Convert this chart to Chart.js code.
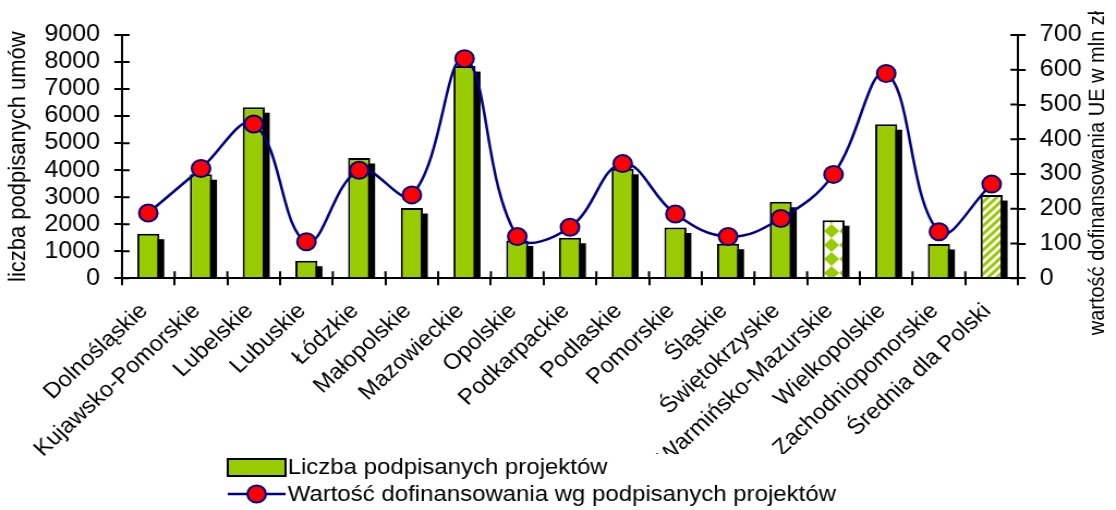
<!DOCTYPE html>
<html>
<head>
<meta charset="utf-8">
<script src="https://cdn.jsdelivr.net/npm/chart.js@4.4.1/dist/chart.umd.min.js"></script>
<style>
  html, body { margin: 0; padding: 0; background: #fff; overflow: hidden; }
  #chart { display: block; transform: scaleX(1.0898); transform-origin: 0 0; }
</style>
</head>
<body>
<canvas id="chart" width="1024" height="510"></canvas>
<script>
const regions = ['Dolnośląskie', 'Kujawsko-Pomorskie', 'Lubelskie', 'Lubuskie', 'Łódzkie', 'Małopolskie',
  'Mazowieckie', 'Opolskie', 'Podkarpackie', 'Podlaskie', 'Pomorskie', 'Śląskie', 'Świętokrzyskie',
  'Warmińsko-Mazurskie', 'Wielkopolskie', 'Zachodniopomorskie', 'Średnia dla Polski'];
const projectCounts = [1650, 3850, 6330, 650, 4450, 2600, 7850, 1400, 1500, 4050, 1880, 1280, 2830, 2150, 5700, 1270, 3080];
const fundingValues = [188, 316, 444, 105, 311, 240, 632, 120, 147, 330, 185, 120, 172, 299, 589, 134, 271];
const countTicks = [0, 1000, 2000, 3000, 4000, 5000, 6000, 7000, 8000, 9000];
const fundingTicks = [0, 100, 200, 300, 400, 500, 600, 700];

const GREEN = '#99CC00';
const NAVY = '#000080';
const FONT = "'Liberation Sans', Arial, sans-serif";

// fill patterns for the two special bars
function diamondPattern() {
  const c = document.createElement('canvas');
  c.width = 14; c.height = 14;
  const g = c.getContext('2d');
  g.fillStyle = '#fff';
  g.fillRect(0, 0, 14, 14);
  g.fillStyle = GREEN;
  g.beginPath();
  g.moveTo(7, 0); g.lineTo(14, 7); g.lineTo(7, 14); g.lineTo(0, 7);
  g.closePath();
  g.fill();
  return g.createPattern(c, 'repeat');
}

function stripePattern() {
  const c = document.createElement('canvas');
  c.width = 8; c.height = 8;
  const g = c.getContext('2d');
  g.fillStyle = '#fff';
  g.fillRect(0, 0, 8, 8);
  g.strokeStyle = GREEN;
  g.lineWidth = 3;
  g.beginPath();
  g.moveTo(-2, 10); g.lineTo(10, -2);
  g.moveTo(-6, 6); g.lineTo(6, -6);
  g.moveTo(2, 14); g.lineTo(14, 2);
  g.stroke();
  return g.createPattern(c, 'repeat');
}

const barColors = regions.map(r => {
  if (r === 'Warmińsko-Mazurskie') return diamondPattern();
  if (r === 'Średnia dla Polski') return stripePattern();
  return GREEN;
});

const barShadow = {
  id: 'barShadow',
  beforeDatasetsDraw(chart) {
    const ctx = chart.ctx, area = chart.chartArea;
    const meta = chart.getDatasetMeta(1);
    ctx.save();
    ctx.beginPath();
    ctx.rect(area.left, 0, area.right - area.left, area.bottom);
    ctx.clip();
    ctx.fillStyle = '#000';
    meta.data.forEach(bar => {
      const p = bar.getProps(['x', 'y', 'base', 'width'], true);
      ctx.fillRect(p.x - p.width / 2 + 4.5, p.y + 5.5, p.width, p.base - p.y);
    });
    ctx.restore();

    // inner half of the cross tick marks
    const {x, y, y1} = chart.scales;
    ctx.save();
    ctx.strokeStyle = '#000';
    ctx.lineWidth = 2;
    ctx.beginPath();
    y.ticks.forEach((t, i) => {
      const py = y.getPixelForTick(i);
      ctx.moveTo(y.right, py); ctx.lineTo(y.right + 7, py);
    });
    y1.ticks.forEach((t, i) => {
      const py = y1.getPixelForTick(i);
      ctx.moveTo(y1.left, py); ctx.lineTo(y1.left - 7, py);
    });
    for (let i = 0; i <= regions.length; i++) {
      const px = x.getPixelForValue(i - 0.5);
      ctx.moveTo(px, x.top); ctx.lineTo(px, x.top - 7);
    }
    ctx.stroke();
    ctx.restore();
  }
};

const extras = {
  id: 'extras',
  afterDraw(chart) {
    const ctx = chart.ctx;
    ctx.save();
    // right axis title, reading bottom to top
    ctx.translate(1007, 173);
    ctx.rotate(-Math.PI / 2);
    ctx.fillStyle = '#000';
    ctx.font = '20px ' + FONT;
    ctx.textAlign = 'center';
    ctx.textBaseline = 'middle';
    ctx.fillText('wartość dofinansowania UE w mln zł', 0, 0);
    ctx.restore();

    // legend box (white, covers the label tails behind it)
    ctx.save();
    ctx.fillStyle = '#fff';
    ctx.fillRect(207, 454, 559, 56);
    ctx.font = '22px ' + FONT;
    ctx.textBaseline = 'middle';
    ctx.fillStyle = GREEN;
    ctx.fillRect(209, 459, 53, 17);
    ctx.strokeStyle = '#000';
    ctx.lineWidth = 2;
    ctx.strokeRect(209, 459, 53, 17);
    ctx.fillStyle = '#000';
    ctx.fillText('Liczba podpisanych projektów', 264, 468);

    ctx.strokeStyle = NAVY;
    ctx.lineWidth = 2.5;
    ctx.beginPath();
    ctx.moveTo(209, 494); ctx.lineTo(262, 494);
    ctx.stroke();
    ctx.beginPath();
    ctx.arc(235.5, 494, 8.5, 0, Math.PI * 2);
    ctx.fillStyle = '#FF0000';
    ctx.fill();
    ctx.lineWidth = 2;
    ctx.stroke();
    ctx.fillStyle = '#000';
    ctx.fillText('Wartość dofinansowania wg podpisanych projektów', 264, 495);
    ctx.restore();
  }
};

const ctx = document.getElementById('chart').getContext('2d');
new Chart(ctx, {
  type: 'bar',
  data: {
    labels: regions,
    datasets: [
      {
        type: 'line',
        label: 'Wartość dofinansowania wg podpisanych projektów',
        data: fundingValues,
        yAxisID: 'y1',
        order: 0,
        borderColor: NAVY,
        borderWidth: 2.5,
        tension: 0.4,
        pointRadius: 8.5,
        pointBorderWidth: 2,
        pointBackgroundColor: '#FF0000',
        pointBorderColor: NAVY,
        clip: false
      },
      {
        label: 'Liczba podpisanych projektów',
        data: projectCounts,
        yAxisID: 'y',
        order: 1,
        backgroundColor: barColors,
        borderColor: '#000',
        borderWidth: 2,
        barPercentage: 0.42,
        categoryPercentage: 1
      }
    ]
  },
  options: {
    responsive: false,
    devicePixelRatio: 1,
    animation: false,
    events: [],
    layout: { padding: { top: 35, right: 0, bottom: 0, left: 0 } },
    plugins: {
      legend: { display: false },
      tooltip: { enabled: false }
    },
    scales: {
      x: {
        afterFit: s => { s.height = 231.7; },
        grid: { drawOnChartArea: false, tickLength: 7, color: '#000', lineWidth: 2, offset: true },
        border: { color: '#000', width: 2 },
        ticks: {
          autoSkip: false,
          maxRotation: 45,
          minRotation: 45,
          padding: 13,
          labelOffset: -4,
          color: '#000',
          font: { family: FONT, size: 22 }
        }
      },
      y: {
        position: 'left',
        min: countTicks[0],
        max: countTicks[countTicks.length - 1],
        afterFit: s => { s.width = 111.9; },
        afterBuildTicks: s => { s.ticks = countTicks.map(v => ({ value: v })); },
        grid: { drawOnChartArea: false, tickLength: 7, color: '#000', lineWidth: 2 },
        border: { color: '#000', width: 2 },
        ticks: {
          autoSkip: false,
          padding: 13,
          color: '#000',
          font: { family: FONT, size: 23 },
          callback: v => String(v)
        },
        title: {
          display: true,
          text: 'liczba podpisanych umów',
          color: '#000',
          font: { family: FONT, size: 22 },
          padding: { top: 4, bottom: 0 }
        }
      },
      y1: {
        position: 'right',
        min: fundingTicks[0],
        max: fundingTicks[fundingTicks.length - 1],
        afterFit: s => { s.width = 89.9; },
        afterBuildTicks: s => { s.ticks = fundingTicks.map(v => ({ value: v })); },
        grid: { drawOnChartArea: false, tickLength: 7, color: '#000', lineWidth: 2 },
        border: { color: '#000', width: 2 },
        ticks: {
          autoSkip: false,
          padding: 13,
          color: '#000',
          font: { family: FONT, size: 23 },
          callback: v => String(v)
        }
      }
    }
  },
  plugins: [barShadow, extras]
});
</script>
</body>
</html>
